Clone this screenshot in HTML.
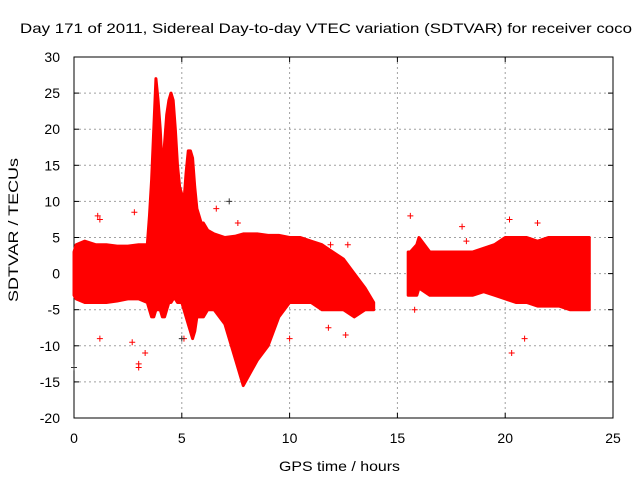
<!DOCTYPE html>
<html><head><meta charset="utf-8"><style>
body{margin:0;background:#fff;}
svg text{font-family:"Liberation Sans",sans-serif;font-size:14px;fill:#000;}
</style></head><body>
<svg id="chart" width="640" height="480" xmlns="http://www.w3.org/2000/svg">
<text x="20" y="33" textLength="612" lengthAdjust="spacingAndGlyphs">Day 171 of 2011, Sidereal Day-to-day VTEC variation (SDTVAR) for receiver coco</text>
<g id="grid"></g>
<g id="axes"></g>
<g id="marks"></g>
<text x="279" y="471" textLength="121" lengthAdjust="spacingAndGlyphs">GPS time / hours</text>
<text transform="translate(18,302) rotate(-90)" textLength="144" lengthAdjust="spacingAndGlyphs">SDTVAR / TECUs</text>
</svg>
<script>
const xTicks=[0,5,10,15,20,25];
const yTicks=[-20,-15,-10,-5,0,5,10,15,20,25,30];
const t1=[0,0.1,0.5,1,1.5,2,2.5,3,3.4,3.5,3.6,3.7,3.8,3.9,4.0,4.1,4.2,4.3,4.4,4.5,4.6,4.7,4.8,4.9,5.0,5.1,5.2,5.3,5.4,5.5,5.6,5.7,5.8,5.9,6.0,6.2,6.5,7,7.5,7.85,8.5,9,9.5,10,10.5,11,11.5,12,12.5,13,13.5,13.9];
const up1=[3,4,4.5,4,4,3.8,3.8,4,4,8,13,20,27,24,20,14,18,22,24,25,24,20,15,12,11,10,14,17,17,16,12,9,8,7,7,6,5.5,5,5.2,5.5,5.5,5.3,5.3,5,5,4.5,4,3,2,0,-2,-4];
const lo1=[-3,-3.5,-4,-4,-4,-3.8,-3.5,-3.5,-4,-5,-6,-6,-5,-5,-5,-6,-6,-5,-4,-4,-3.5,-3.5,-4,-4,-4,-5,-6,-7,-8,-9,-8,-6,-6,-6,-6,-5,-5,-7,-12,-15.5,-12,-10,-6,-4,-4,-4,-5,-5,-5,-6,-5,-5];
const t2=[15.5,15.6,15.9,16,16.5,17,17.5,18,18.5,19,19.5,20,20.5,21,21.5,22,22.5,23,23.5,23.9];
const up2=[3,3,4,5,3,3,3,3,3,3.5,4,5,5,5,4.5,5,5,5,5,5];
const lo2=[-3,-3,-3,-2,-3,-3,-3,-3,-3,-2.5,-3,-3.5,-4,-4,-4.5,-4.5,-4.5,-5,-5,-5];
const outT=[1.1,1.2,2.7,2.8,3.0,3.3,5.1,6.6,7.6,11.9,12.6,12.7,15.6,18.0,18.2,20.2,20.3,21.5,1.2,3.0,10,11.8,15.8,20.9,0,7.2,5.0];
const outV=[8,7.5,-9.5,8.5,-12.5,-11,-9,9,7,4,-8.5,4,8,6.5,4.5,7.5,-11,7,-9,-13,-9,-7.5,-5,-9,-13,10,-9];
const X=v=>74+v*539/25, Y=v=>418-(v+20)*361/50;
const NS="http://www.w3.org/2000/svg";
function mk(tag,attrs,parent){const e=document.createElementNS(NS,tag);for(const k in attrs)e.setAttribute(k,attrs[k]);parent.appendChild(e);return e;}
const grid=document.getElementById('grid'),axes=document.getElementById('axes'),marks=document.getElementById('marks');
xTicks.forEach(v=>{
 if(v>0&&v<25){const l=mk('line',{x1:X(v),x2:X(v),y1:57,y2:418,stroke:'#a0a0a0','stroke-dasharray':'2,3'},grid);}
 const t=mk('text',{x:X(v),y:443,'text-anchor':'middle'},axes);t.textContent=v;
 
 mk('line',{x1:X(v),x2:X(v),y1:418,y2:413,stroke:'#000'},axes);mk('line',{x1:X(v),x2:X(v),y1:57,y2:62,stroke:'#000'},axes);
});
yTicks.forEach(v=>{
 if(v>-20&&v<30){const l=mk('line',{x1:74,x2:613,y1:Y(v),y2:Y(v),stroke:'#a0a0a0','stroke-dasharray':'2,3'},grid);}
 const t=mk('text',{x:60,y:Y(v)+5,'text-anchor':'end'},axes);t.textContent=v;
 
 mk('line',{x1:74,x2:79,y1:Y(v),y2:Y(v),stroke:'#000'},axes);mk('line',{x1:613,x2:608,y1:Y(v),y2:Y(v),stroke:'#000'},axes);
});
const fr=mk('rect',{x:74,y:57,width:539,height:361,fill:'none',stroke:'#000'},axes);

function band(t,u,l,name){
 let pts=t.map((v,i)=>X(v)+','+Y(u[i]));
 for(let i=t.length-1;i>=0;i--)pts.push(X(t[i])+','+Y(l[i]));
 const p=mk('polygon',{points:pts.join(' '),fill:'#ff0000',stroke:'#ff0000','stroke-width':3,'stroke-linejoin':'round'},marks);
 
}
band(t1,up1,lo1,'sdtvar-band-1');
band(t2,up2,lo2,'sdtvar-band-2');
outT.forEach((v,i)=>{
 const g=mk('path',{d:`M${X(v)-3},${Y(outV[i])}h6M${X(v)},${Y(outV[i])-3}v6`,stroke:i>=24?'#333':'#ff0000','stroke-width':1},marks);
 
});
</script>
</body></html>
